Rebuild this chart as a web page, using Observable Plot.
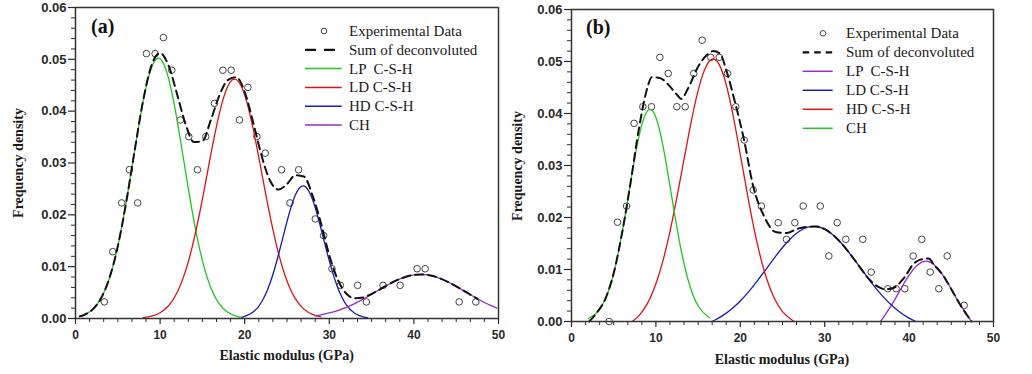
<!DOCTYPE html>
<html><head><meta charset="utf-8">
<script src="https://cdn.jsdelivr.net/npm/d3@7"></script>
<script src="https://cdn.jsdelivr.net/npm/@observablehq/plot@0.6"></script>
<style>
body{margin:0;background:#fff;}
#wrap{position:relative;width:1032px;height:374px;overflow:hidden;background:#fff}
#wrap > svg{position:absolute;top:0}
</style></head><body><div id="wrap"></div>
<script>
// ---------- axes ----------
const xTicks = [0, 10, 20, 30, 40, 50];
const yTicks = [0, 0.01, 0.02, 0.03, 0.04, 0.05, 0.06];
const axisTitleX = "Elastic modulus (GPa)";
const axisTitleY = "Frequency density";

// ---------- panel (a) ----------
const aExpX = [3.41,4.4,5.46,6.37,7.35,8.38,9.41,10.39,11.38,12.4,13.39,14.42,15.4,16.43,17.42,18.4,19.38,20.38,21.44,22.43,24.36,25.35,26.37,28.34,29.33,30.32,31.3,33.35,34.38,36.35,38.37,40.38,41.33,45.35,47.32];
const aExpY = [0.0032,0.0129,0.0223,0.0287,0.0223,0.0511,0.0511,0.0542,0.0479,0.0383,0.0351,0.0287,0.0351,0.0415,0.0479,0.0479,0.0383,0.0446,0.0351,0.0319,0.0287,0.0223,0.0287,0.0192,0.016,0.0096,0.0064,0.0064,0.0032,0.0064,0.0064,0.0096,0.0096,0.0032,0.0032];

const aSumX = [0.5,1,2,3,4,5,6,7,8,9,10,11,12,13,14,15,16,17,18,19,20,21,22,23,24,25,26,27,28,29,30,31,32,33,34,35,36,37,38,39,40,41,42,43,44,45,46,47,47.5];
const aSumY = [0.00041,0.00068,0.00171,0.00385,0.00775,0.01395,0.02251,0.03247,0.0421,0.04891,0.0512,0.0488,0.04333,0.03755,0.03405,0.03421,0.0383,0.0430,0.046,0.04657,0.0437,0.03783,0.03138,0.02658,0.02488,0.02595,0.02765,0.02739,0.02383,0.01848,0.01219,0.00749,0.00482,0.00389,0.00405,0.00475,0.00564,0.00657,0.00739,0.00802,0.0084,0.00849,0.00829,0.0078,0.00708,0.00621,0.00525,0.00429,0.00383];

const aLPX = [0.5,1,2,3,4,5,6,7,8,9,10,11,12,13,14,15,16,17,18,19,19.7];
const aLPY = [0.00041,0.00068,0.00171,0.00385,0.00775,0.01395,0.02251,0.03247,0.04193,0.04846,0.0501,0.04634,0.03836,0.02842,0.01884,0.01118,0.00593,0.00282,0.0012,0.00046,0.00022];

const aLDX = [8,9,10,11,12,13,14,15,16,17,18,19,20,21,22,23,24,25,26,27,28,29];
const aLDY = [0.00017,0.00045,0.0011,0.00246,0.00497,0.00913,0.01521,0.02303,0.03166,0.03952,0.0448,0.04611,0.0431,0.03658,0.0282,0.01974,0.01254,0.00724,0.00379,0.00181,0.00078,0.00031];

const aHDX = [19.7,20,21,22,23,24,25,26,27,28,29,30,31,32,33,34,34.5];
const aHDY = [0.00028,0.00041,0.00125,0.00318,0.00684,0.01234,0.01871,0.02386,0.02558,0.02305,0.01746,0.01112,0.00595,0.00268,0.00101,0.00032,0.00017];

const aCHX = [28.3,29,30,31,32,33,34,35,36,37,38,39,40,41,42,43,44,45,46,47,48,49,49.8];
const aCHY = [0.00053,0.00071,0.00107,0.00154,0.00214,0.00288,0.00373,0.00467,0.00564,0.00657,0.00739,0.00802,0.0084,0.00849,0.00829,0.0078,0.00708,0.00621,0.00525,0.00429,0.00338,0.00257,0.00201];

const aLegend = ["Experimental Data", "Sum of deconvoluted", "LP  C-S-H", "LD C-S-H", "HD C-S-H", "CH"];
const aColors = ["#22c322", "#e01212", "#1a1ab4", "#9030c8"]; // LP, LD, HD, CH

// ---------- panel (b) ----------
const bExpX = [4.46,5.45,6.52,7.42,8.45,9.48,10.47,11.46,12.48,13.47,14.49,15.48,16.5,17.5,18.48,19.47,20.46,21.53,22.5,24.49,25.47,26.46,27.45,29.47,30.49,31.48,32.5,34.51,35.51,37.48,38.47,39.49,40.48,41.5,42.5,43.52,44.51,46.53];
const bExpY = [0.0,0.0191,0.0222,0.0381,0.0413,0.0413,0.0508,0.0477,0.0413,0.0413,0.0477,0.0541,0.0508,0.0508,0.0477,0.0413,0.0349,0.0253,0.0222,0.019,0.0158,0.019,0.0222,0.0222,0.0126,0.019,0.0158,0.0158,0.0095,0.0063,0.0063,0.0063,0.0126,0.0158,0.0095,0.0063,0.0126,0.0031];

const bSumX = [2.1,3,4,5,6,7,8,9,9.5,10.5,11.5,12.5,13,13.8,15,16,16.8,17.6,18.4,19.35,20.46,21.5,22.8,24.2,25.5,26.7,28,29,30,31,32,33,34,35,36.2,37.2,38.2,39.4,40.6,41.35,42.3,43,44,45,46,47,47.4];
const bSumY = [0,0.0017,0.0043,0.0093,0.0171,0.0267,0.0372,0.0450,0.0470,0.0468,0.0455,0.0436,0.0428,0.0448,0.0490,0.0512,0.0520,0.0515,0.0480,0.0423,0.0348,0.0262,0.0203,0.0172,0.0170,0.0178,0.0182,0.01827,0.01775,0.01662,0.01499,0.01301,0.01084,0.00863,0.0068,0.0062,0.0065,0.0084,0.0112,0.0119,0.0121,0.0108,0.00891,0.00621,0.00338,0.00091,0];

const bLPX = [36.6,37,38,39,40,41,42,43,44,45,46,47,47.4];
const bLPY = [0,0.00091,0.00338,0.00621,0.00891,0.01088,0.0116,0.01088,0.00891,0.00621,0.00338,0.00091,0];

const bLDX = [16.6,17,18,19,20,21,22,23,24,25,26,27,28,29,30,31,32,33,34,35,36,37,38,39,40,40.8];
const bLDY = [0,0.00029,0.00123,0.00245,0.00395,0.00574,0.00777,0.00995,0.01215,0.01423,0.01602,0.01736,0.01814,0.01827,0.01775,0.01662,0.01499,0.01301,0.01084,0.00863,0.00653,0.00464,0.00301,0.00168,0.00064,0];

const bHDX = [7.2,8,9,10,11,12,13,14,15,16,17,18,19,20,21,22,23,24,25,26,26.4];
const bHDY = [0,0.00113,0.00349,0.00725,0.01271,0.01989,0.0283,0.03694,0.0444,0.04924,0.0504,0.0474,0.04079,0.03211,0.02307,0.01506,0.00885,0.00456,0.00191,0.00042,0];

const bCHX = [2,3,4,5,6,7,8,9,10,11,12,13,14,15,16,16.4];
const bCHY = [0.00057,0.00171,0.00431,0.00929,0.01707,0.02672,0.03564,0.04051,0.03923,0.03238,0.02277,0.01365,0.00697,0.00303,0.00113,0.00072];

const bLegend = ["Experimental Data", "Sum of deconvoluted", "LP  C-S-H", "LD C-S-H", "HD C-S-H", "CH"];
const bColors = ["#9030c8", "#1a1ab4", "#e01212", "#22c322"]; // LP, LD, HD, CH

// ---------- helpers ----------
const pts = (xs, ys) => xs.map((x, i) => ({x, y: ys[i]}));
const sansFam = "'Liberation Sans', Arial, sans-serif";

function panel(cfg) {
  const minorX = d3.range(0, 50.001, 10 / 6).filter(v => Math.abs(v / 10 - Math.round(v / 10)) > 1e-6);
  const minorY = d3.range(0, 0.0601, 0.002).filter(v => Math.abs(v / 0.01 - Math.round(v / 0.01)) > 1e-6);
  return Plot.plot({
    width: cfg.width, height: 374,
    marginLeft: cfg.ml, marginRight: cfg.mr, marginTop: cfg.mt, marginBottom: cfg.mb,
    x: {domain: [0, 50]},
    y: {domain: [0, 0.06]},
    style: {background: "transparent", color: "#2a2a2a", overflow: "visible"},
    marks: [
      Plot.axisY(minorY, {tickSize: 4, tickFormat: () => "", label: null, strokeWidth: 1}),
      Plot.axisY(yTicks, {tickSize: 7, tickPadding: 2, tickFormat: d3.format(".2f"), label: null, strokeWidth: 1.2,
        fontSize: 13, fontWeight: "bold", fontFamily: sansFam}),
      Plot.axisX(minorX, {tickSize: 4, tickFormat: () => "", label: null, strokeWidth: 1}),
      Plot.axisX(xTicks, {tickSize: 6, tickPadding: 6, tickFormat: d3.format("d"), label: null, strokeWidth: 1.2,
        fontSize: 12, fontWeight: "bold", fontFamily: sansFam}),
      Plot.dot(pts(cfg.expX, cfg.expY), {x: "x", y: "y", r: 3.3, stroke: "#444", strokeWidth: 1, fill: "none"}),
      ...cfg.series.map(s => Plot.line(pts(s.x, s.y), {x: "x", y: "y", stroke: s.color, strokeWidth: 1.3, curve: "natural"})),
      Plot.line(pts(cfg.sumX, cfg.sumY), {x: "x", y: "y", stroke: "#111", strokeWidth: 2, strokeDasharray: "8,5", curve: "monotone-x"}),
      Plot.frame({stroke: "#333", strokeWidth: 1.5})
    ]
  });
}

const wrap = document.getElementById("wrap");

const svgA = panel({
  width: 505, ml: 75, mr: 7, mt: 7, mb: 56,
  expX: aExpX, expY: aExpY, sumX: aSumX, sumY: aSumY,
  series: [
    {x: aLPX, y: aLPY, color: aColors[0]},
    {x: aLDX, y: aLDY, color: aColors[1]},
    {x: aHDX, y: aHDY, color: aColors[2]},
    {x: aCHX, y: aCHY, color: aColors[3]}
  ]
});
svgA.style.left = "0px";
wrap.appendChild(svgA);

const svgB = panel({
  width: 505, ml: 66, mr: 17, mt: 9, mb: 53,
  expX: bExpX, expY: bExpY, sumX: bSumX, sumY: bSumY,
  series: [
    {x: bLPX, y: bLPY, color: bColors[0]},
    {x: bLDX, y: bLDY, color: bColors[1]},
    {x: bHDX, y: bHDY, color: bColors[2]},
    {x: bCHX, y: bCHY, color: bColors[3]}
  ]
});
svgB.style.left = "505px";
wrap.appendChild(svgB);

// ---------- annotations (titles, panel labels, legends) ----------
const ov = d3.select(wrap).append("svg")
  .attr("width", 1032).attr("height", 374)
  .style("left", "0px").style("pointer-events", "none");
const serif = "'Liberation Serif', 'Times New Roman', serif";

function titles(cx, by, yx, cy, tag, tx, ty) {
  ov.append("text").attr("x", cx).attr("y", by).attr("text-anchor", "middle")
    .attr("font-family", serif).attr("font-weight", "bold").attr("font-size", 14).attr("fill", "#1a1a1a")
    .text(axisTitleX);
  ov.append("text").attr("transform", `translate(${yx},${cy}) rotate(-90)`).attr("text-anchor", "middle")
    .attr("font-family", serif).attr("font-weight", "bold").attr("font-size", 14).attr("fill", "#1a1a1a")
    .text(axisTitleY);
  ov.append("text").attr("x", tx).attr("y", ty)
    .attr("font-family", serif).attr("font-weight", "bold").attr("font-size", 20).attr("fill", "#111")
    .text(tag);
}
titles(286.7, 360, 23, 163, "(a)", 91, 33);
titles(782, 364, 522, 166, "(b)", 586, 34);

function legend(labels, colors, o) {
  labels.forEach((lab, i) => {
    const cy = o.y0 + i * o.dy;
    if (i === 0) {
      ov.append("circle").attr("cx", o.cx).attr("cy", cy).attr("r", 2.8)
        .attr("fill", "none").attr("stroke", "#444").attr("stroke-width", 1);
    } else if (i === 1) {
      ov.append("line").attr("x1", o.x1).attr("x2", o.x2).attr("y1", cy).attr("y2", cy)
        .attr("stroke", "#111").attr("stroke-width", 2.2).attr("stroke-dasharray", o.dash);
    } else {
      ov.append("line").attr("x1", o.x1).attr("x2", o.x2).attr("y1", cy).attr("y2", cy)
        .attr("stroke", colors[i - 2]).attr("stroke-width", 1.5);
    }
    ov.append("text").attr("x", o.tx).attr("y", cy + 5)
      .attr("font-family", serif).attr("font-size", 15).attr("fill", "#1a1a1a")
      .style("white-space", "pre").text(lab);
  });
}
legend(aLegend, aColors, {y0: 31, dy: 18.8, cx: 324, x1: 305, x2: 341.7, dash: "11,8", tx: 349});
legend(bLegend, bColors, {y0: 33.3, dy: 19, cx: 823, x1: 802.7, x2: 832.7, dash: "6.5,5", tx: 846});
</script></body></html>
